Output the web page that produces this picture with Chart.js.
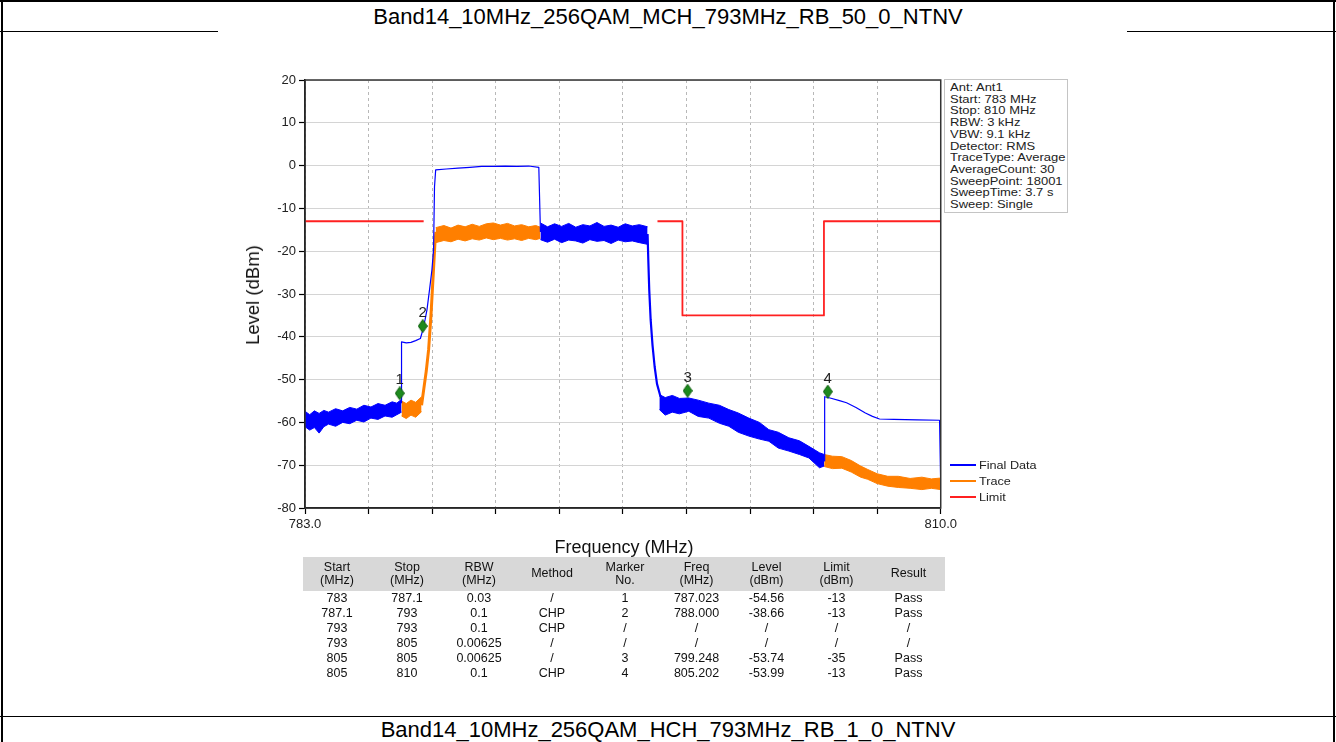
<!DOCTYPE html>
<html><head><meta charset="utf-8">
<script src="https://cdn.jsdelivr.net/npm/chart.js@4.4.1/dist/chart.umd.min.js"></script>
<style>
html,body{margin:0;padding:0;background:#fff;}
body{width:1336px;height:742px;position:relative;overflow:hidden;font-family:"Liberation Sans",Arial,sans-serif;color:#000;}
.hl{position:absolute;background:#000;height:1px;}
.vl{position:absolute;background:#000;width:1px;}
.doctitle{position:absolute;left:0;width:1336px;text-align:center;font-size:22px;line-height:24px;white-space:nowrap;}
#chartWrap{position:absolute;left:220px;top:60px;width:740px;height:500px;}
#ytitle{position:absolute;left:253px;top:295px;transform:translate(-50%,-50%) rotate(-90deg);font-size:18.5px;white-space:nowrap;color:#111;}
#xtitle{position:absolute;left:624px;top:547px;transform:translate(-50%,-50%);font-size:18px;white-space:nowrap;color:#111;}
#info{position:absolute;left:944px;top:79px;width:124px;height:134px;border:1px solid #c4c4c4;box-sizing:border-box;background:#fff;overflow:hidden;}
#info .in{position:absolute;left:5px;top:2px;transform:scaleX(1.18);transform-origin:0 0;font-size:11px;line-height:11.7px;color:#222;white-space:nowrap;}
.lg{position:absolute;left:950px;width:26px;height:2px;}
.lgt{position:absolute;left:979px;font-size:11px;line-height:12px;color:#222;transform:scaleX(1.15);transform-origin:0 50%;white-space:nowrap;}
#tbl{position:absolute;left:303px;top:557px;width:642px;border-collapse:collapse;table-layout:fixed;font-size:12.5px;color:#111;}
#tbl th{background:#d8d8d8;font-weight:normal;height:34px;padding:0;line-height:13.5px;font-size:12.5px;}
#tbl td{text-align:center;height:15px;padding:0;line-height:15px;}
</style>
</head>
<body>
<div class="hl" style="left:0;top:0;width:1336px;height:2px;"></div>
<div class="vl" style="left:1px;top:0;height:742px;width:2px;"></div>
<div class="vl" style="left:1333px;top:0;height:742px;width:2px;"></div>
<div class="hl" style="left:0;top:31px;width:218px;"></div>
<div class="hl" style="left:1127px;top:31px;width:209px;"></div>
<div class="hl" style="left:0;top:716px;width:1336px;"></div>
<div class="doctitle" id="t1" style="top:5px;"></div>
<div class="doctitle" id="t2" style="top:718px;"></div>

<div id="chartWrap"><canvas id="c" width="740" height="500"></canvas></div>
<div id="ytitle">Level (dBm)</div>
<div id="xtitle">Frequency (MHz)</div>
<div id="info"><div class="in" id="infoText"></div></div>
<div id="legend"></div>
<table id="tbl"><colgroup id="cols"></colgroup><thead><tr id="thr"></tr></thead><tbody id="tb"></tbody></table>

<script>
// ---------------- text ----------------
const docTitleTop = 'Band14_10MHz_256QAM_MCH_793MHz_RB_50_0_NTNV';
const docTitleBottom = 'Band14_10MHz_256QAM_HCH_793MHz_RB_1_0_NTNV';
const infoLines = ['Ant: Ant1','Start: 783 MHz','Stop: 810 MHz','RBW: 3 kHz','VBW: 9.1 kHz','Detector: RMS','TraceType: Average','AverageCount: 30','SweepPoint: 18001','SweepTime: 3.7 s','Sweep: Single'];
const seriesNames = ['Final Data','Trace','Limit'];
const seriesColors = ['#0000ff','#ff7f00','#ff2020'];

// ---------------- axes ----------------
const xTicks = [783.0,785.7,788.4,791.1,793.8,796.5,799.2,801.9,804.6,807.3,810.0];
const xTickLabels = ['783.0','','','','','','','','','','810.0'];
const yTicks = [20,10,0,-10,-20,-30,-40,-50,-60,-70,-80];

// ---------------- Final Data (blue) ----------------
// noisy band 783 - 787.1 (upper / lower envelope)
const finalBand1Freq = [783.0,783.2,783.4,783.6,783.8,784.0,784.3,784.6,784.9,785.2,785.5,785.8,786.1,786.4,786.7,786.9,787.1];
const finalBand1Hi   = [-57.4,-58.2,-57.3,-57.9,-57.2,-57.6,-56.8,-57.3,-56.5,-56.9,-56.0,-56.4,-55.6,-56.0,-55.2,-55.5,-54.6];
const finalBand1Lo   = [-61.0,-61.8,-61.2,-62.5,-61.0,-60.4,-60.9,-60.0,-60.3,-59.5,-59.9,-59.0,-59.3,-58.5,-58.8,-58.2,-57.6];
// thin line 787.1 - 793
const finalLine1Freq  = [787.1,787.1,787.3,787.5,787.7,787.9,788.0,788.1,788.18,788.3,788.39,788.46,788.5,788.55,789.0,789.5,790.0,790.5,791.0,791.5,792.0,792.5,792.93,793.0];
const finalLine1Level = [-55.5,-41.2,-41.4,-41.3,-40.9,-40.4,-38.5,-36.0,-33.7,-28.5,-24.4,-19.7,-5.0,-1.0,-0.8,-0.6,-0.4,-0.2,-0.2,-0.1,-0.2,-0.1,-0.4,-15.5];
// noisy band 793 - 797.55
const finalBand2Freq = [793.0,793.3,793.6,793.9,794.2,794.5,794.8,795.1,795.4,795.7,796.0,796.3,796.6,796.9,797.2,797.55];
const finalBand2Hi   = [-13.4,-14.3,-13.6,-14.2,-13.5,-14.4,-13.8,-14.1,-13.3,-14.2,-13.9,-14.4,-13.6,-14.1,-13.8,-14.3];
const finalBand2Lo   = [-17.3,-17.9,-17.2,-18.0,-17.4,-17.6,-18.1,-17.3,-17.7,-17.5,-18.2,-17.4,-17.8,-17.6,-18.0,-18.4];
// falling edge
const finalDropFreq  = [797.55,797.58,797.62,797.68,797.76,797.85,797.95,798.1];
const finalDropLevel = [-16,-22,-29,-36,-42,-47,-51,-54];
// noisy band 798 - 805
const finalBand3Freq = [798.05,798.3,798.6,798.9,799.3,799.7,800.15,800.6,801.0,801.4,801.85,802.3,802.7,803.1,803.55,804.0,804.4,804.85,805.05];
const finalBand3Hi   = [-53.5,-54.2,-53.7,-54.4,-54.3,-54.8,-55.5,-56.0,-57.0,-57.8,-59.0,-60.0,-61.7,-62.3,-63.6,-64.3,-65.6,-67.1,-67.5];
const finalBand3Lo   = [-57.0,-58.3,-57.6,-58.0,-57.4,-58.6,-59.0,-60.2,-60.9,-62.3,-63.2,-63.9,-64.4,-66.0,-66.7,-67.5,-68.3,-70.6,-70.2];
// thin line 805 - 810
const finalLine2Freq  = [805.05,805.07,805.3,805.7,806.0,806.4,806.8,807.1,807.4,808.0,809.0,809.95,810.0];
const finalLine2Level = [-69.0,-54.0,-54.3,-54.9,-55.4,-56.5,-57.8,-58.6,-59.2,-59.3,-59.4,-59.5,-75.0];

// ---------------- Trace (orange) ----------------
const traceBand1Freq = [787.1,787.3,787.5,787.7,787.95];
const traceBand1Hi   = [-55.0,-55.6,-54.8,-55.3,-54.0];
const traceBand1Lo   = [-58.5,-59.1,-58.3,-58.8,-57.5];
const traceEdgeFreq  = [787.95,788.05,788.15,788.25,788.35,788.45,788.52,788.56];
const traceEdgeLevel = [-56,-52,-48,-43,-35,-25,-18,-15.5];
const traceBand2Freq = [788.55,788.9,789.2,789.5,789.8,790.1,790.4,790.7,791.0,791.3,791.6,791.9,792.2,792.5,792.8,793.0];
const traceBand2Hi   = [-14.5,-14.0,-14.6,-13.9,-14.3,-13.7,-14.2,-13.6,-13.4,-13.9,-13.5,-14.1,-13.8,-14.3,-14.0,-14.4];
const traceBand2Lo   = [-18.0,-17.5,-17.8,-17.2,-17.6,-17.1,-17.4,-16.9,-17.3,-17.0,-17.4,-17.1,-17.5,-17.0,-17.3,-17.0];
const traceBand3Freq = [805.05,805.4,805.8,806.2,806.6,806.9,807.3,807.75,808.2,808.7,809.2,809.6,810.0];
const traceBand3Hi   = [-67.5,-67.9,-68.0,-68.9,-70.2,-71.0,-72.0,-72.6,-72.6,-73.1,-72.8,-73.2,-73.0];
const traceBand3Lo   = [-70.3,-70.8,-70.7,-71.6,-72.8,-73.3,-74.3,-74.9,-75.2,-75.4,-75.7,-75.4,-75.7];

// ---------------- Limit (red) ----------------
const limitFreq  = [783.0,788.04,793.0,797.97,799.03,799.03,805.04,805.04,810.0];
const limitLevel = [-13,-13,null,-13,-13,-35,-35,-13,-13];

// ---------------- Markers ----------------
const markerNo    = ['1','2','3','4'];
const markerFreq  = [787.023,788.000,799.248,805.202];
const markerLevel = [-53.2,-37.5,-52.6,-52.8];

// ---------------- Result table ----------------
const tableHeader = [['Start','(MHz)'],['Stop','(MHz)'],['RBW','(MHz)'],['Method'],['Marker','No.'],['Freq','(MHz)'],['Level','(dBm)'],['Limit','(dBm)'],['Result']];
const colStart  = ['783','787.1','793','793','805','805'];
const colStop   = ['787.1','793','793','805','805','810'];
const colRBW    = ['0.03','0.1','0.1','0.00625','0.00625','0.1'];
const colMethod = ['/','CHP','CHP','/','/','CHP'];
const colMarker = ['1','2','/','/','3','4'];
const colFreq   = ['787.023','788.000','/','/','799.248','805.202'];
const colLevel  = ['-54.56','-38.66','/','/','-53.74','-53.99'];
const colLimit  = ['-13','-13','/','/','-35','-13'];
const colResult = ['Pass','Pass','/','/','Pass','Pass'];
const colWidths = [68,72,72,74,72,71,69,71,73];

// ================= build page =================
document.getElementById('t1').textContent = docTitleTop;
document.getElementById('t2').textContent = docTitleBottom;
document.getElementById('infoText').innerHTML = infoLines.map(s=>'<div>'+s+'</div>').join('');

const lg = document.getElementById('legend');
const lgY = [465,481,497];
seriesNames.forEach((n,i)=>{
  const l = document.createElement('div'); l.className='lg';
  l.style.top=(lgY[i]-1)+'px'; l.style.background=seriesColors[i]; lg.appendChild(l);
  const t = document.createElement('div'); t.className='lgt';
  t.style.top=(lgY[i]-6)+'px'; t.textContent=n; lg.appendChild(t);
});

const cols = document.getElementById('cols');
colWidths.forEach(w=>{const c=document.createElement('col'); c.style.width=w+'px'; cols.appendChild(c);});
const thr = document.getElementById('thr');
tableHeader.forEach(h=>{const th=document.createElement('th'); th.innerHTML=h.join('<br>'); thr.appendChild(th);});
const tb = document.getElementById('tb');
const tcols = [colStart,colStop,colRBW,colMethod,colMarker,colFreq,colLevel,colLimit,colResult];
for(let r=0;r<colStart.length;r++){
  const tr=document.createElement('tr');
  tcols.forEach(c=>{const td=document.createElement('td'); td.textContent=c[r]; tr.appendChild(td);});
  tb.appendChild(tr);
}

// ================= chart =================
const pts = (f,v)=>f.map((x,i)=>({x:x,y:v[i]}));
const datasets = [];
function addLine(f,v,color,w,label){
  datasets.push({label:label,data:pts(f,v),borderColor:color,backgroundColor:color,borderWidth:w,pointRadius:0,fill:false,tension:0,spanGaps:false});
}
function addBand(f,hi,lo,color,label){
  datasets.push({label:label,data:pts(f,hi),borderColor:color,backgroundColor:color,borderWidth:1,pointRadius:0,fill:false,tension:0});
  datasets.push({label:label,data:pts(f,lo),borderColor:color,backgroundColor:color,borderWidth:1,pointRadius:0,fill:'-1',tension:0});
}
// markers first -> drawn on top
const diamond = document.createElement('canvas');
diamond.width=10; diamond.height=14;
(function(){const g=diamond.getContext('2d'); g.beginPath(); g.moveTo(5,0.5); g.lineTo(9.5,7); g.lineTo(5,13.5); g.lineTo(0.5,7); g.closePath(); g.fillStyle='#1d8a1d'; g.fill(); g.strokeStyle='#0f5f0f'; g.lineWidth=1; g.stroke();})();
datasets.push({label:'Markers',data:pts(markerFreq,markerLevel),showLine:false,pointStyle:diamond,pointRadius:6,borderColor:'#1d8a1d',backgroundColor:'#1d8a1d'});
addLine(limitFreq,limitLevel,seriesColors[2],1.8,seriesNames[2]);
addLine(finalLine1Freq,finalLine1Level,seriesColors[0],1.2,seriesNames[0]);
addLine(finalLine2Freq,finalLine2Level,seriesColors[0],1.2,seriesNames[0]);
addLine(finalDropFreq,finalDropLevel,seriesColors[0],2.2,seriesNames[0]);
addBand(finalBand1Freq,finalBand1Hi,finalBand1Lo,seriesColors[0],seriesNames[0]);
addBand(finalBand2Freq,finalBand2Hi,finalBand2Lo,seriesColors[0],seriesNames[0]);
addBand(finalBand3Freq,finalBand3Hi,finalBand3Lo,seriesColors[0],seriesNames[0]);
addLine(traceEdgeFreq,traceEdgeLevel,seriesColors[1],3,seriesNames[1]);
addBand(traceBand1Freq,traceBand1Hi,traceBand1Lo,seriesColors[1],seriesNames[1]);
addBand(traceBand2Freq,traceBand2Hi,traceBand2Lo,seriesColors[1],seriesNames[1]);
addBand(traceBand3Freq,traceBand3Hi,traceBand3Lo,seriesColors[1],seriesNames[1]);

const framePlugin = {
  id:'frame',
  afterDraw(chart){
    const {ctx,chartArea:a}=chart;
    ctx.save(); ctx.strokeStyle='#333'; ctx.lineWidth=1.5;
    ctx.strokeRect(a.left,a.top,a.right-a.left,a.bottom-a.top);
    ctx.restore();
  },
  afterDatasetsDraw(chart){
    const meta = chart.getDatasetMeta(0);
    const ctx = chart.ctx;
    ctx.save(); ctx.fillStyle='#222'; ctx.font='15px "Liberation Sans", Arial, sans-serif';
    ctx.textAlign='center'; ctx.textBaseline='alphabetic';
    meta.data.forEach((p,i)=>{ ctx.fillText(markerNo[i], p.x, p.y-9); });
    ctx.restore();
  }
};

const tickFont = {family:'"Liberation Sans", Arial, sans-serif', size:13};
new Chart(document.getElementById('c'),{
  type:'line',
  data:{datasets:datasets},
  options:{
    responsive:false, animation:false, devicePixelRatio:1,
    layout:{padding:{top:20,right:16,left:0,bottom:0}},
    plugins:{legend:{display:false},tooltip:{enabled:false}},
    elements:{line:{borderJoinStyle:'round'}},
    scales:{
      x:{type:'linear',min:783,max:810,
        afterBuildTicks:s=>{s.ticks=xTicks.map(v=>({value:v}));},
        afterFit:s=>{s.height=52;},
        ticks:{autoSkip:false,maxRotation:0,minRotation:0,padding:3,color:'#222',font:tickFont,
          callback:(v,i)=>xTickLabels[i]},
        grid:{color:'#b8b8b8',lineWidth:1,drawTicks:true,tickLength:6,tickColor:'#000',tickWidth:1.2},
        border:{display:true,color:'#000',width:1.5,dash:[3,3]}
      },
      y:{type:'linear',min:-80,max:20,
        afterBuildTicks:s=>{s.ticks=yTicks.map(v=>({value:v}));},
        afterFit:s=>{s.width=85;},
        ticks:{padding:3,color:'#222',font:tickFont,callback:v=>String(v)},
        grid:{color:'#d4d4d4',lineWidth:1,drawTicks:true,tickLength:6,tickColor:'#000',tickWidth:1.2},
        border:{display:true,color:'#000',width:1.5}
      }
    }
  },
  plugins:[framePlugin]
});
</script>
</body></html>
